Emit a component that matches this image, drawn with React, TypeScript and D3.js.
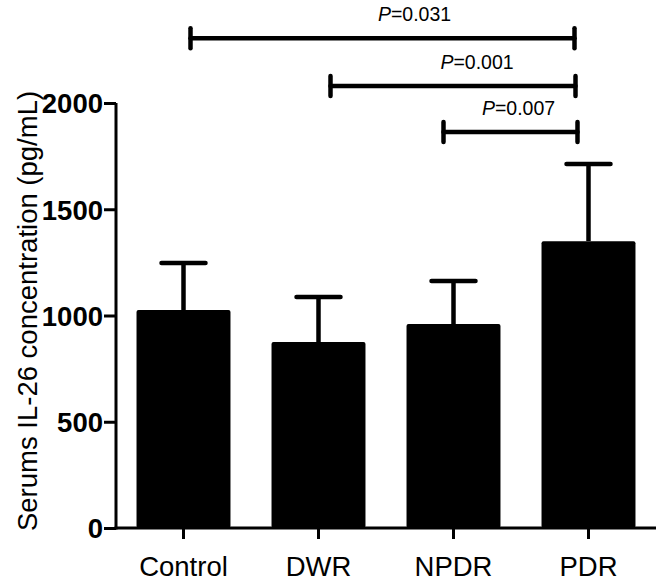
import { useEffect, useRef } from 'react';
import * as d3 from 'd3';

// values
const categories = ['Control', 'DWR', 'NPDR', 'PDR'];
const means = [1026, 875, 960, 1350];
const errors = [221, 212, 202, 363];
const yTicks = [0, 500, 1000, 1500, 2000];

const comparisons = [
  { from: 'Control', to: 'PDR', p: '0.031', level: 2305 },
  { from: 'DWR', to: 'PDR', p: '0.001', level: 2080 },
  { from: 'NPDR', to: 'PDR', p: '0.007', level: 1864 },
];

const W = 663;
const H = 583;
const FONT = '"Liberation Sans", Arial, Helvetica, sans-serif';

const App = () => {
  const svgRef = useRef<SVGSVGElement>(null);

  useEffect(() => {
    if (!svgRef.current) return;
    const svg = d3.select(svgRef.current);
    svg.selectAll('*').remove();

    const margin = { top: 103, right: 7, bottom: 55, left: 116 };
    const innerW = W - margin.left - margin.right;
    const innerH = H - margin.top - margin.bottom;

    const x = d3.scaleBand()
      .domain(categories)
      .range([0, innerW])
      .paddingInner(0.304)
      .paddingOuter(0.152);

    const y = d3.scaleLinear().domain([0, 2000]).range([innerH, 0]);

    const g = svg.append('g').attr('transform', `translate(${margin.left},${margin.top})`);

    const rows = categories.map((c, i) => ({ c, mean: means[i], err: errors[i] }));

    // error bars (upper only), drawn under the bars
    const eb = g.selectAll('g.err').data(rows).enter().append('g').attr('class', 'err');
    const cx = (c: string) => (x(c) || 0) + x.bandwidth() / 2;
    eb.append('line')
      .attr('x1', d => cx(d.c))
      .attr('x2', d => cx(d.c))
      .attr('y1', d => y(d.mean))
      .attr('y2', d => y(d.mean + d.err))
      .attr('stroke', '#000')
      .attr('stroke-width', 4.5);
    eb.append('line')
      .attr('x1', d => cx(d.c) - 22)
      .attr('x2', d => cx(d.c) + 22)
      .attr('y1', d => y(d.mean + d.err))
      .attr('y2', d => y(d.mean + d.err))
      .attr('stroke', '#000')
      .attr('stroke-width', 4.5)
      .attr('stroke-linecap', 'round');

    // bars
    g.selectAll('rect.bar')
      .data(rows)
      .enter()
      .append('rect')
      .attr('class', 'bar')
      .attr('x', d => x(d.c) || 0)
      .attr('width', x.bandwidth())
      .attr('y', d => y(d.mean))
      .attr('height', d => innerH - y(d.mean))
      .attr('rx', 2)
      .attr('fill', '#000');

    // y axis
    const yAxis = g.append('g')
      .call(d3.axisLeft(y).tickValues(yTicks).tickSize(12).tickPadding(1).tickFormat(d3.format('d')));
    yAxis.select('.domain').attr('stroke-width', 3).attr('d', `M0,${innerH + 1.5}V0`);
    yAxis.selectAll('.tick line').attr('stroke-width', 3);
    yAxis.selectAll('.tick text')
      .attr('font-family', FONT)
      .attr('font-size', 27.5)
      .attr('font-weight', 'bold')
      .attr('fill', '#000')
      .attr('dy', '0.36em');

    // x axis
    const xAxis = g.append('g')
      .attr('transform', `translate(0,${innerH})`)
      .call(d3.axisBottom(x).tickSize(11).tickPadding(0));
    xAxis.select('.domain').attr('stroke-width', 3).attr('d', `M-1.5,0H${innerW}`);
    xAxis.selectAll('.tick line').attr('stroke-width', 3);
    xAxis.selectAll('.tick text')
      .attr('font-family', FONT)
      .attr('font-size', 27.5)
      .attr('fill', '#000')
      .attr('y', 0)
      .attr('dy', 0)
      .attr('transform', `translate(0,${48})`);

    // y axis title
    svg.append('text')
      .attr('transform', `translate(37,${311}) rotate(-90)`)
      .attr('text-anchor', 'middle')
      .attr('font-family', FONT)
      .attr('font-size', 27.5)
      .attr('fill', '#000')
      .text('Serums IL-26 concentration (pg/mL)');

    // significance brackets
    const insets = [[7, -14], [12, -13], [-10, -11]];
    const labelShift = [32, 24, 8];
    comparisons.forEach((cmp, i) => {
      const x1 = cx(cmp.from) + insets[i][0];
      const x2 = cx(cmp.to) + insets[i][1];
      const yy = y(cmp.level);
      const b = g.append('g')
        .attr('stroke', '#000')
        .attr('stroke-width', 4.5)
        .attr('stroke-linecap', 'round');
      b.append('line').attr('x1', x1).attr('x2', x2).attr('y1', yy).attr('y2', yy);
      b.append('line').attr('x1', x1).attr('x2', x1).attr('y1', yy - 10).attr('y2', yy + 10);
      b.append('line').attr('x1', x2).attr('x2', x2).attr('y1', yy - 10).attr('y2', yy + 10);

      const t = g.append('text')
        .attr('x', (x1 + x2) / 2 + labelShift[i])
        .attr('y', yy - 17)
        .attr('text-anchor', 'middle')
        .attr('font-family', FONT)
        .attr('font-size', 19.5)
        .attr('fill', '#000');
      t.append('tspan').attr('font-style', 'italic').text('P');
      t.append('tspan').text(`=${cmp.p}`);
    });
  }, []);

  return (
    <svg
      ref={svgRef}
      width={W}
      height={H}
      style={{ position: 'absolute', left: 0, top: 0, background: '#fff' }}
    />
  );
};

export default App;
